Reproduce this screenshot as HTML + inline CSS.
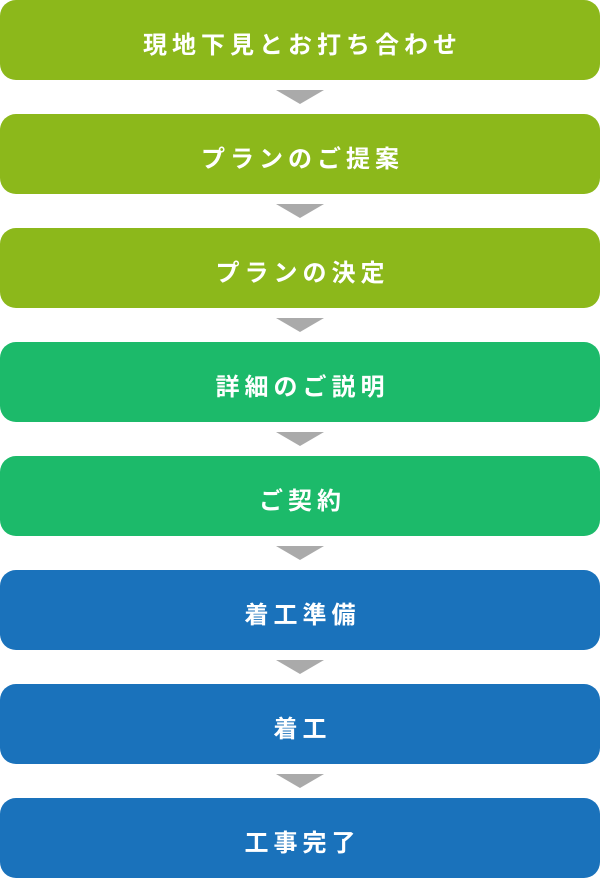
<!DOCTYPE html>
<html><head><meta charset="utf-8"><style>
html,body{margin:0;padding:0;background:#fff;width:600px;height:878px;overflow:hidden}
.b{position:absolute;left:0;width:600px;height:80px;box-sizing:border-box;padding-top:5px;padding-left:5px;border-radius:16px;color:#fff;font:bold 24px "Liberation Sans","Noto Sans CJK JP",sans-serif;letter-spacing:5px;display:flex;align-items:center;justify-content:center}
.a{position:absolute;left:276px;width:0;height:0;border-left:24px solid transparent;border-right:24px solid transparent;border-top:14px solid #aaa}
.y{background:#8cb81b}.g{background:#1cba6a}.u{background:#1a72bb}
</style></head><body>
<div class="b y" style="top:0">現地下見とお打ち合わせ</div>
<div class="a" style="top:90px"></div>
<div class="b y" style="top:114px">プランのご提案</div>
<div class="a" style="top:204px"></div>
<div class="b y" style="top:228px">プランの決定</div>
<div class="a" style="top:318px"></div>
<div class="b g" style="top:342px">詳細のご説明</div>
<div class="a" style="top:432px"></div>
<div class="b g" style="top:456px">ご契約</div>
<div class="a" style="top:546px"></div>
<div class="b u" style="top:570px">着工準備</div>
<div class="a" style="top:660px"></div>
<div class="b u" style="top:684px">着工</div>
<div class="a" style="top:774px"></div>
<div class="b u" style="top:798px">工事完了</div>
</body></html>
